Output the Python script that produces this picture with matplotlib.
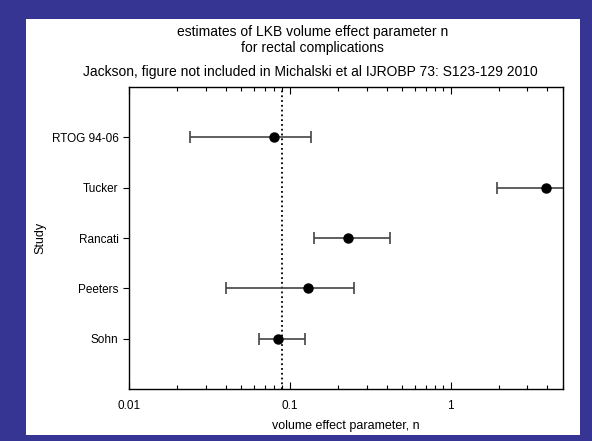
import matplotlib
matplotlib.use("Agg")
import matplotlib.pyplot as plt
from matplotlib.patches import Rectangle
from matplotlib.ticker import LogLocator, FixedLocator, NullFormatter
import numpy as np

plt.rcParams["font.family"] = ["Liberation Sans", "DejaVu Sans"]

# data
studies = ["Sohn", "Peeters", "Rancati", "Tucker", "RTOG 94-06"]
n_est = [0.084, 0.129, 0.229, 3.9, 0.080]
n_low = [0.064, 0.040, 0.141, 1.93, 0.024]
n_high = [0.124, 0.25, 0.418, 8.0, 0.135]
n_ref = 0.09

fig = plt.figure(figsize=(5.92, 4.41), dpi=100)
fig.patch.set_facecolor("#363594")
fig.patches.append(Rectangle((26 / 592, 1 - 435 / 441), 554 / 592, 416 / 441,
                             transform=fig.transFigure, facecolor="white",
                             edgecolor="none", zorder=-5))

ax = fig.add_axes([129 / 592, 1 - 389 / 441, 434 / 592, 302 / 441])
ax.set_facecolor("none")
ypos = np.arange(1, len(studies) + 1)
est = np.array(n_est)
xerr = [est - np.array(n_low), np.array(n_high) - est]

ax.axvline(n_ref, color="black", linestyle=":", lw=1.3, zorder=1)
ax.errorbar(est, ypos, xerr=xerr, fmt="none", ecolor="#444444",
            elinewidth=1.2, capsize=4.5, capthick=1.2, zorder=2)
ax.plot(est, ypos, "o", color="black", ms=6.5, zorder=3)

ax.set_xscale("log")
ax.set_xlim(0.01, 5)
ax.set_ylim(0, 6)
ax.xaxis.set_major_locator(FixedLocator([0.01, 0.1, 1]))
ax.set_xticklabels(["0.01", "0.1", "1"])
ax.xaxis.set_minor_locator(LogLocator(base=10, subs=np.arange(2, 10)))
ax.xaxis.set_minor_formatter(NullFormatter())
ax.set_yticks(ypos)
ax.set_yticklabels(studies)

ax.tick_params(axis="x", which="both", direction="in", top=True,
               labelsize=8.5, pad=8)
ax.tick_params(axis="x", which="major", length=5, width=0.8)
ax.tick_params(axis="x", which="minor", length=3, width=0.8)
ax.tick_params(axis="y", direction="out", length=4, width=0.8, labelsize=8.5,
               right=False)
for s in ax.spines.values():
    s.set_linewidth(1.0)

ax.set_xlabel("volume effect parameter, n", fontsize=9, labelpad=6)
ax.set_ylabel("Study", fontsize=9, labelpad=4)

fig.text(0.528, 1 - 32 / 441, "estimates of LKB volume effect parameter n",
         ha="center", va="center", fontsize=10)
fig.text(0.528, 1 - 48 / 441, "for rectal complications",
         ha="center", va="center", fontsize=10)
fig.text(0.525, 1 - 72 / 441,
         "Jackson, figure not included in Michalski et al IJROBP 73: S123-129 2010",
         ha="center", va="center", fontsize=10)

fig.savefig("out.png", dpi=100, facecolor=fig.get_facecolor())
